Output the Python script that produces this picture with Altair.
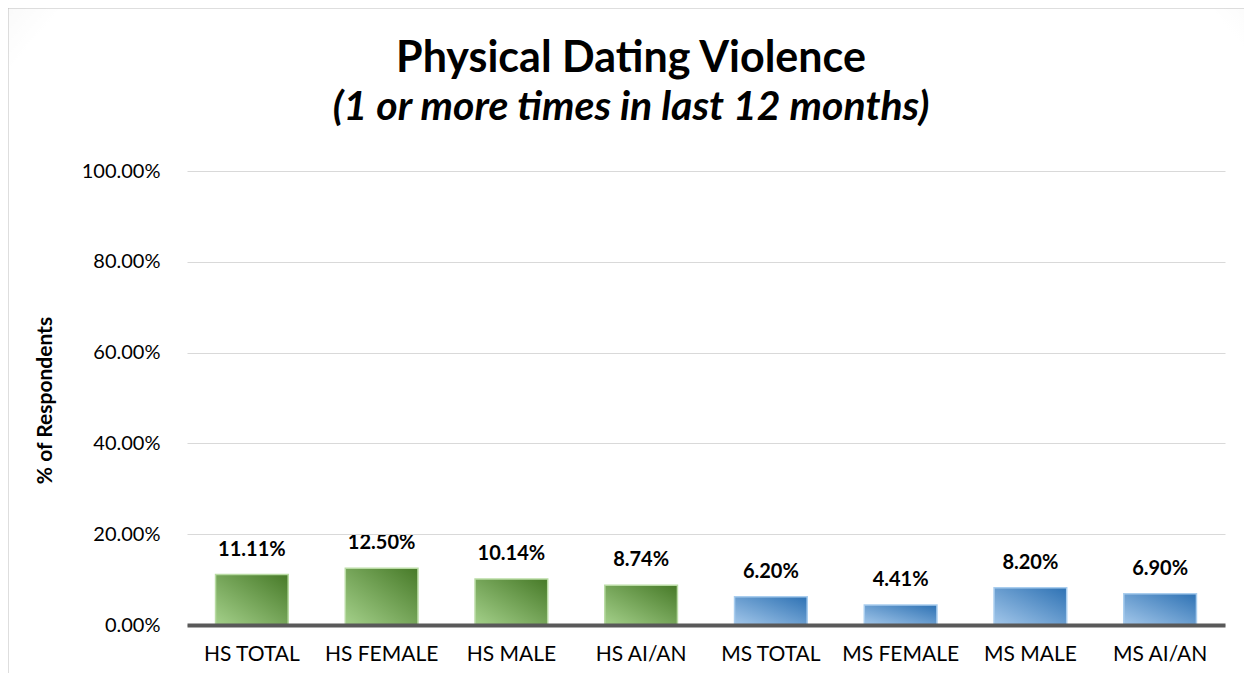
import altair as alt
import pandas as pd

categories = ["HS TOTAL", "HS FEMALE", "HS MALE", "HS AI/AN",
              "MS TOTAL", "MS FEMALE", "MS MALE", "MS AI/AN"]
groups = ["HS", "HS", "HS", "HS", "MS", "MS", "MS", "MS"]
values = [0.1111, 0.1250, 0.1014, 0.0874, 0.0620, 0.0441, 0.0820, 0.0690]
y_ticks = [0, 0.2, 0.4, 0.6, 0.8, 1.0]
title_text = "Physical Dating Violence"
subtitle_text = "(1 or more times in last 12 months)"

df = pd.DataFrame({"cat": categories, "grp": groups, "val": values})

W, H = 1038, 454
PAD = {"left": 179, "top": 163, "right": 19, "bottom": 48}
FONT = "Lato"

x_enc = alt.X("cat:N", sort=categories, title=None,
              scale=alt.Scale(paddingInner=0.44, paddingOuter=0.22),
              axis=alt.Axis(labelAngle=0, labelFontSize=21, labelColor="#000000",
                            labelFont=FONT, labelPadding=18, ticks=False,
                            domainColor="#595959", domainWidth=4, zindex=3,
                            grid=False))
y_enc = alt.Y("val:Q", title="% of Respondents",
              scale=alt.Scale(domain=[0, 1], nice=False),
              axis=alt.Axis(values=y_ticks, format=".2%", labelFontSize=20,
                            labelColor="#000000", labelFont=FONT, labelPadding=27,
                            ticks=False, domain=False, gridColor="#d9d9d9",
                            gridWidth=1.2, titleFont=FONT, titleFontSize=21,
                            titleFontWeight="bold", titleColor="#000000",
                            titleX=-142, titleY=H / 2 + 2, titleAngle=270,
                            titleAlign="center", titleBaseline="middle", zindex=1))

one = pd.DataFrame({"a": [0]})
frame = alt.Chart(one).mark_rect(
    fill=alt.Gradient(gradient="radial", x1=0.5, y1=0.65, r1=0, x2=0.5, y2=0.65, r2=0.8,
                      stops=[alt.GradientStop(offset=0, color="#ffffff"),
                             alt.GradientStop(offset=0.78, color="#ffffff"),
                             alt.GradientStop(offset=1, color="#e2e2e2")]),
    stroke="#bdbdbd", strokeWidth=2
).encode(x=alt.value(-179.5), x2=alt.value(W + 40), y=alt.value(-163.5), y2=alt.value(H + 80))

title = alt.Chart(one).mark_text(
    text=title_text, font=FONT, fontSize=43, fontWeight="bold", color="#000000",
    align="center", baseline="alphabetic"
).encode(x=alt.value(631 - 187), y=alt.value(72 - 171))
subtitle = alt.Chart(one).mark_text(
    text=subtitle_text, font=FONT, fontSize=41, fontWeight="bold", fontStyle="italic",
    color="#000000", align="center", baseline="alphabetic"
).encode(x=alt.value(631 - 187), y=alt.value(120 - 171))

green = alt.Gradient(gradient="linear", x1=0, y1=1, x2=1, y2=0,
                     stops=[alt.GradientStop(offset=0, color="#a4d08a"),
                            alt.GradientStop(offset=1, color="#477a28")])
blue = alt.Gradient(gradient="linear", x1=0, y1=1, x2=1, y2=0,
                    stops=[alt.GradientStop(offset=0, color="#a3c7ea"),
                           alt.GradientStop(offset=1, color="#2e72b4")])

base = alt.Chart(df)
bars_hs = base.transform_filter(alt.datum.grp == "HS").mark_bar(
    fill=green, stroke="#b9dba4", strokeWidth=1.5).encode(x=x_enc, y=y_enc)
bars_ms = base.transform_filter(alt.datum.grp == "MS").mark_bar(
    fill=blue, stroke="#a9cdee", strokeWidth=1.5).encode(x=x_enc, y=y_enc)
labels = base.mark_text(font=FONT, fontSize=20, fontWeight="bold", color="#000000",
                        baseline="alphabetic", dy=-19).encode(
    x=alt.X("cat:N", sort=categories),
    y=alt.Y("val:Q"),
    text=alt.Text("val:Q", format=".2%"))

chart = alt.layer(frame, title, subtitle, bars_hs, bars_ms, labels).properties(
    width=W, height=H, autosize=alt.AutoSizeParams(type="none"), padding=PAD
).configure_view(stroke=None).configure(background="#ffffff")

chart.save("out.html", embed_options={"renderer": "svg", "actions": False})
